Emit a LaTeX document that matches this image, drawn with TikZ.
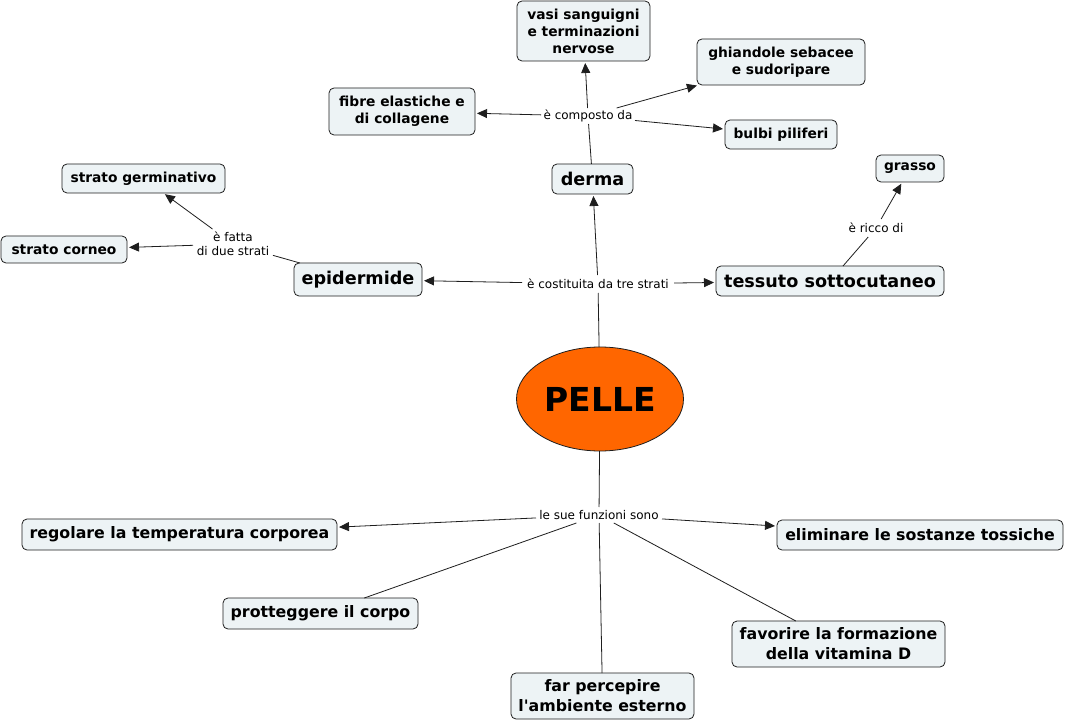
\documentclass[tikz,border=0pt]{standalone}
\usepackage{fontspec}
\setmainfont{DejaVu Sans}[Ligatures=TeXOff]
\usetikzlibrary{arrows.meta,shapes.geometric}
\definecolor{boxfill}{RGB}{237,243,245}
\definecolor{pelle}{RGB}{255,102,0}
\definecolor{edge}{RGB}{30,30,30}
\begin{document}
\begin{tikzpicture}[x=1pt,y=-1pt,
  concept/.style={draw=edge, line width=0.8pt, fill=boxfill, rounded corners=5pt, align=center, inner sep=0pt, outer sep=0pt},
  csmall/.style={concept, font=\fontsize{13.8}{17}\selectfont\bfseries},
  cmid/.style={concept, font=\fontsize{15.8}{20}\selectfont\bfseries},
  cbig/.style={concept, font=\fontsize{17.6}{21}\selectfont\bfseries},
  link/.style={align=center, inner sep=0pt, outer sep=0pt, font=\fontsize{12}{14}\selectfont},
  conn/.style={draw=edge, line width=0.8pt},
  arr/.style={conn, -{Triangle[length=10pt,width=9pt]}, shorten >=2pt}]
\useasboundingbox[fill=white] (0,0) rectangle (1066,722);

% concepts
\node[csmall, minimum width=133, minimum height=60] (vasi) at (583.5,31) {vasi sanguigni\\e terminazioni\\nervose};
\node[csmall, minimum width=168, minimum height=46] (ghiand) at (781,62) {ghiandole sebacee\\e sudoripare};
\node[csmall, minimum width=146, minimum height=47] (fibre) at (402,111.5) {fibre elastiche e\\di collagene};
\node[csmall, minimum width=112, minimum height=29] (bulbi) at (781,134.5) {bulbi piliferi};
\node[cbig, minimum width=81, minimum height=30] (derma) at (592.5,179) {derma};
\node[csmall, minimum width=163, minimum height=29] (germ) at (143.5,178.5) {strato germinativo};
\node[csmall, minimum width=126, minimum height=27] (corneo) at (64,249.5) {strato corneo};
\node[csmall, minimum width=68, minimum height=27] (grasso) at (910,168.5) {grasso};
\node[cbig, minimum width=128, minimum height=33] (epid) at (358,279.5) {epidermide};
\node[cbig, minimum width=228, minimum height=30] (tess) at (830,281) {tessuto sottocutaneo};
\node[draw=edge, line width=0.8pt, fill=pelle, shape=ellipse, minimum width=167, minimum height=104, inner sep=0pt, outer sep=0pt, font=\fontsize{33}{38}\selectfont\bfseries] (pelle) at (600,399) {PELLE};
\node[cmid, minimum width=315, minimum height=31] (reg) at (179.5,534.5) {regolare la temperatura corporea};
\node[cmid, minimum width=286, minimum height=30] (elim) at (920,535) {eliminare le sostanze tossiche};
\node[cmid, minimum width=195, minimum height=31] (prot) at (320.5,613.5) {protteggere il corpo};
\node[cmid, minimum width=213, minimum height=46] (fav) at (838.5,644) {favorire la formazione\\della vitamina D};
\node[cmid, minimum width=183, minimum height=46] (far) at (602.5,696) {far percepire\\l'ambiente esterno};

% linking phrases
\node[link, minimum width=94, minimum height=16] (compo) at (588,116) {è composto da};
\node[link, minimum width=80, minimum height=30] (fatta) at (233,244) {è fatta\\di due strati};
\node[link, minimum width=152, minimum height=18] (costit) at (598,284) {è costituita da tre strati};
\node[link, minimum width=66, minimum height=18] (ricco) at (876,228) {è ricco di};
\node[link, minimum width=126, minimum height=16] (funz) at (599,515) {le sue funzioni sono};

% connectors
\draw[conn] (derma) -- (compo);
\draw[arr] (compo) -- (vasi);
\draw[arr] (compo) -- (fibre);
\draw[arr] (compo) -- (ghiand);
\draw[arr] (compo) -- (bulbi);

\draw[conn] (epid) -- (fatta);
\draw[arr] (fatta) -- (germ);
\draw[arr] (fatta) -- (corneo);

\draw[conn] (pelle) -- (costit);
\draw[arr] (costit) -- (derma);
\draw[arr] (costit) -- (epid);
\draw[arr] (costit) -- (tess);

\draw[conn] (tess) -- (ricco);
\draw[arr] (ricco) -- (grasso);

\draw[conn] (pelle) -- (funz);
\draw[arr] (funz) -- (reg);
\draw[arr] (funz) -- (elim);
\draw[conn] (funz) -- (prot);
\draw[conn] (funz) -- (fav);
\draw[conn] (funz) -- (far);
\end{tikzpicture}
\end{document}
